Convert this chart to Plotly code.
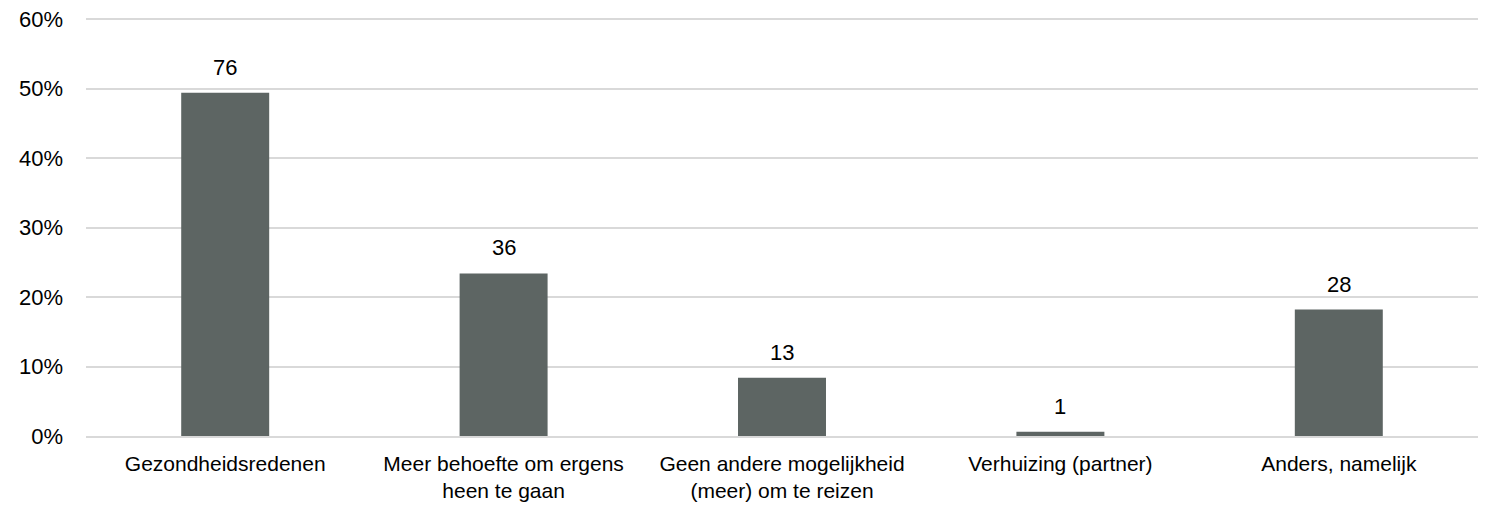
"""Bar chart: reasons (share of respondents, count shown above each bar)."""

import plotly.graph_objects as go

categories = [
    "Gezondheidsredenen",
    "Meer behoefte om ergens<br>heen te gaan",
    "Geen andere mogelijkheid<br>(meer) om te reizen",
    "Verhuizing (partner)",
    "Anders, namelijk",
]
shares = [0.494, 0.234, 0.084, 0.006, 0.182]
counts = [76, 36, 13, 1, 28]

BAR_COLOR = "#5d6563"
GRID_COLOR = "#d9d9d9"
FONT = "Liberation Sans, Arial, sans-serif"
FONT_SIZE = 22

fig = go.Figure()
fig.add_trace(
    go.Bar(
        x=categories,
        y=shares,
        marker=dict(color=BAR_COLOR, line=dict(width=0)),
        hoverinfo="skip",
    )
)

for cat, share, n in zip(categories, shares, counts):
    fig.add_annotation(
        x=cat,
        y=share,
        text=str(n),
        showarrow=False,
        yanchor="bottom",
        yshift=11,
        font=dict(size=FONT_SIZE, color="#000000", family=FONT),
    )

fig.update_layout(
    width=1488,
    height=505,
    margin=dict(l=86, r=10, t=18, b=69),
    paper_bgcolor="#ffffff",
    plot_bgcolor="#ffffff",
    font=dict(family=FONT, size=FONT_SIZE, color="#000000"),
    bargap=0.684,
    showlegend=False,
    xaxis=dict(
        automargin=False,
        showline=True,
        linecolor=GRID_COLOR,
        linewidth=1.5,
        showgrid=False,
        ticks="",
        ticklabelstandoff=8,
        tickfont=dict(size=21),
    ),
    yaxis=dict(
        automargin=False,
        # a hair above 60% so the top gridline is still drawn
        range=[0, 0.6015],
        tickvals=[0, 0.1, 0.2, 0.3, 0.4, 0.5, 0.6],
        tickformat=".0%",
        showgrid=True,
        gridcolor=GRID_COLOR,
        gridwidth=1.5,
        zeroline=False,
        showline=False,
        ticks="",
        ticklabelstandoff=22,
    ),
)

# drop the browser's default page margin so the figure sits at the top-left corner
fig.write_html(
    "out.html",
    config={"displayModeBar": False},
    post_script="document.body.style.margin='0';",
)
